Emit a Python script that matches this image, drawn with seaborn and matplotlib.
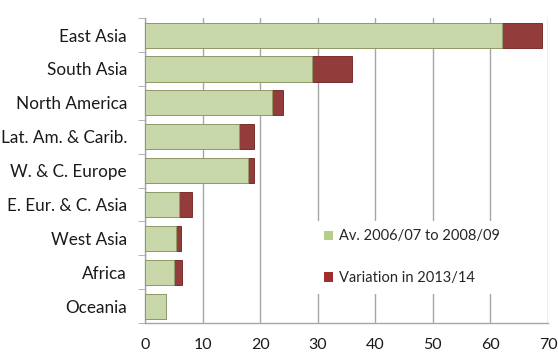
import pandas as pd
import matplotlib.pyplot as plt
import seaborn as sns
from matplotlib.patches import Patch
from matplotlib.ticker import MultipleLocator

# Values
regions = ['East Asia', 'South Asia', 'North America', 'Lat. Am. & Carib.',
           'W. & C. Europe', 'E. Eur. & C. Asia', 'West Asia', 'Africa', 'Oceania']
average = [62.0, 29.0, 22.0, 16.3, 17.8, 5.9, 5.4, 5.0, 3.6]
variation = [7.0, 7.0, 2.0, 2.7, 1.1, 2.2, 0.8, 1.4, 0.0]

df = pd.DataFrame({'region': regions, 'average': average, 'variation': variation})
df['total'] = df['average'] + df['variation']

green = '#cbdea2'
green_edge = '#8ea068'
red = '#a02e2e'
red_edge = '#6e1c1c'

sns.set_style('white')
plt.rcParams['font.family'] = ['Lato', 'DejaVu Sans']

fig, ax = plt.subplots(figsize=(5.58, 3.63), dpi=100)
fig.subplots_adjust(left=0.26, right=0.982, top=0.95, bottom=0.11)

sns.barplot(data=df, y='region', x='total', color=red, edgecolor=red_edge,
            linewidth=0.6, width=0.74, ax=ax, orient='h', zorder=3)
sns.barplot(data=df, y='region', x='average', color=green, edgecolor=green_edge,
            linewidth=0.6, width=0.74, ax=ax, orient='h', zorder=4)

ax.set_xlim(0, 70)
ax.xaxis.set_major_locator(MultipleLocator(10))
ax.set_xlabel('')
ax.set_ylabel('')
ax.grid(axis='x', color='#a6a6a6', linewidth=1.0, zorder=0)
ax.grid(axis='y', visible=False)

for side in ['top', 'right']:
    ax.spines[side].set_visible(False)
for side in ['left', 'bottom']:
    ax.spines[side].set_color('#a6a6a6')
    ax.spines[side].set_linewidth(1.0)

ax.tick_params(axis='x', length=4, color='#a6a6a6', labelsize=11.5, pad=7,
               labelcolor='#1a1a1a')
ax.tick_params(axis='y', length=0, labelsize=12.3, pad=13, labelcolor='#1a1a1a')
ax.set_yticks([i + 0.5 for i in range(-1, len(regions))], minor=True)
ax.tick_params(axis='y', which='minor', length=5, color='#a6a6a6', left=True)

handles = [Patch(facecolor='#b5cf88', edgecolor='none', label='Av. 2006/07 to 2008/09'),
           Patch(facecolor=red, edgecolor='none', label='Variation in 2013/14')]
leg = ax.legend(handles=handles, loc='upper left', bbox_to_anchor=(0.405, 0.36),
                frameon=True, fontsize=10.5, handlelength=0.6, handleheight=0.6,
                handletextpad=0.4, labelspacing=1.9, borderpad=0.6)
leg.get_frame().set_facecolor('white')
leg.get_frame().set_edgecolor('none')
leg.get_frame().set_alpha(1)
leg.set_zorder(5)

plt.savefig('out.png', dpi=100)
